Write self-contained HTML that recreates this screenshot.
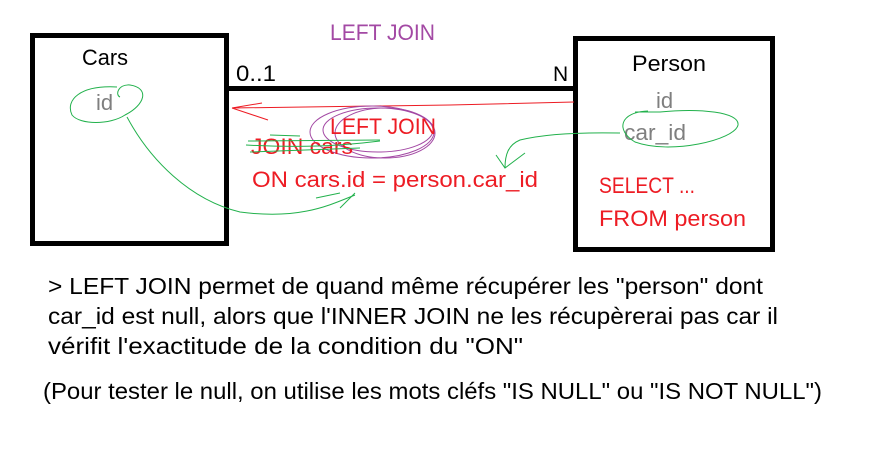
<!DOCTYPE html>
<html><head><meta charset="utf-8"><style>
html,body{margin:0;padding:0;background:#fff;}
svg{display:block;}
text{font-family:"Liberation Sans",sans-serif;}
</style></head><body>
<svg width="879" height="457" viewBox="0 0 879 457" xmlns="http://www.w3.org/2000/svg">
<rect x="32.5" y="35.5" width="194" height="208" fill="none" stroke="#000" stroke-width="5"/>
<rect x="575.5" y="38.5" width="197" height="211" fill="none" stroke="#000" stroke-width="5"/>
<line x1="226" y1="88.5" x2="575" y2="88.5" stroke="#000" stroke-width="5"/>
<text x="82" y="65" font-size="22" textLength="46" lengthAdjust="spacingAndGlyphs">Cars</text>
<text x="632" y="71" font-size="22" textLength="74" lengthAdjust="spacingAndGlyphs">Person</text>
<text x="236" y="81" font-size="22" textLength="40" lengthAdjust="spacingAndGlyphs">0..1</text>
<text x="553" y="81" font-size="21">N</text>
<text x="330" y="40" font-size="22" fill="#a349a4" textLength="105" lengthAdjust="spacingAndGlyphs">LEFT JOIN</text>
<text x="96" y="110" font-size="22" fill="#7f7f7f">id</text>
<text x="656" y="108" font-size="22" fill="#7f7f7f">id</text>
<text x="624" y="140" font-size="22" fill="#7f7f7f" textLength="62" lengthAdjust="spacingAndGlyphs">car_id</text>
<path d="M117,87 C80,85 65,100 72,115 C80,125 110,125 125,115 C145,105 150,88 130,85 C118,84 115,95 120,97" fill="none" stroke="#22b14c" stroke-width="1"/>
<path d="M648,111 C620,112 615,130 635,142 C670,155 735,140 738,125 C740,112 700,108 660,112 L635,112" fill="none" stroke="#22b14c" stroke-width="1"/>
<path d="M127,117 C150,160 190,200 240,212 C300,220 330,205 355,195" fill="none" stroke="#22b14c" stroke-width="1"/>
<path d="M316,198 L340,193 M355,193 L340,208" fill="none" stroke="#22b14c" stroke-width="1"/>
<path d="M620,133 C570,132 540,135 520,140 C508,145 505,155 505,168 M496,155 L505,168 L525,153" fill="none" stroke="#22b14c" stroke-width="1"/>
<path d="M574,102 L450,105 L232,108 M232,108 L262,103 M232,108 L268,120" fill="none" stroke="#ed1c24" stroke-width="1"/>
<ellipse cx="372" cy="132" rx="62" ry="26" fill="none" stroke="#a349a4" stroke-width="1"/>
<ellipse cx="378" cy="130" rx="55" ry="22" fill="none" stroke="#a349a4" stroke-width="1"/>
<ellipse cx="385" cy="133" rx="50" ry="25" fill="none" stroke="#a349a4" stroke-width="1"/>
<text x="330" y="134" font-size="22" fill="#ed1c24" textLength="106" lengthAdjust="spacingAndGlyphs">LEFT JOIN</text>
<text x="251" y="154" font-size="22" fill="#ed1c24" textLength="102" lengthAdjust="spacingAndGlyphs">JOIN cars</text>
<path d="M248,141 L380,140 M246,145 C300,148 340,146 380,141 M250,152 L360,148 M270,135 L300,136" fill="none" stroke="#22b14c" stroke-width="1"/>
<text x="252" y="187" font-size="22" fill="#ed1c24" textLength="286" lengthAdjust="spacingAndGlyphs">ON cars.id = person.car_id</text>
<text x="599" y="193" font-size="22" fill="#ed1c24" textLength="96" lengthAdjust="spacingAndGlyphs">SELECT ...</text>
<text x="599" y="226" font-size="22" fill="#ed1c24" textLength="147" lengthAdjust="spacingAndGlyphs">FROM person</text>
<text x="48" y="294" font-size="23" textLength="715" lengthAdjust="spacingAndGlyphs">&gt; LEFT JOIN permet de quand même récupérer les "person" dont</text>
<text x="48" y="324" font-size="23" textLength="730" lengthAdjust="spacingAndGlyphs">car_id est null, alors que l'INNER JOIN ne les récupèrerai pas car il</text>
<text x="48" y="354" font-size="23" textLength="475" lengthAdjust="spacingAndGlyphs">vérifit l'exactitude de la condition du "ON"</text>
<text x="43" y="399" font-size="23" textLength="779" lengthAdjust="spacingAndGlyphs">(Pour tester le null, on utilise les mots cléfs "IS NULL" ou "IS NOT NULL")</text>
</svg>
</body></html>
